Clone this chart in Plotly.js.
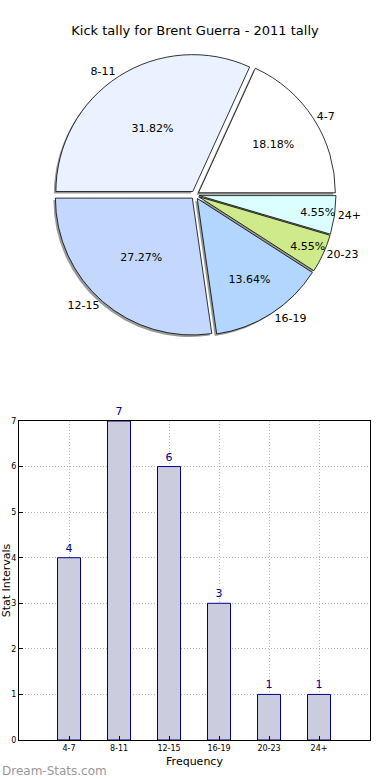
<!DOCTYPE html>
<html>
<head>
<meta charset="utf-8">
<script src="https://cdn.plot.ly/plotly-3.0.1.min.js"></script>
<style>html,body{margin:0;padding:0;background:#fff}#chart{width:390px;height:780px}</style>
</head>
<body>
<div id="chart"></div>
<script>
var categories = ["4-7", "8-11", "12-15", "16-19", "20-23", "24+"];
var counts = [4, 7, 6, 3, 1, 1];
var sliceColors = ["#ffffff", "#eaf1ff", "#c4d8ff", "#b3d6ff", "#cfea8a", "#dbffff"];
var pullAmount = [0.03, 0.03, 0.03, 0.03, 0.03, 0.03];

var W = 390, H = 780;
function px(x) { return x / W; }
function py(y) { return 1 - y / H; }

var cx = 195, cy = 195, half = 141;
var pieDomain = {x: [px(cx - half), px(cx + half)], y: [py(cy + half), py(cy - half)]};
var shadowDomain = {x: [px(cx - half - 2), px(cx + half - 2)], y: [py(cy + half + 2), py(cy - half + 2)]};
var font = "DejaVu Sans, sans-serif";
var pieRotation = 24.55;

var shadow = {
  type: "pie", values: counts, labels: categories, sort: false,
  direction: "counterclockwise", rotation: pieRotation, pull: pullAmount,
  domain: shadowDomain, textinfo: "none", hoverinfo: "skip",
  marker: {colors: categories.map(function(){return "#9a9a9a";}), line: {width: 0}},
  showlegend: false
};
var pie = {
  type: "pie", values: counts, labels: categories, sort: false,
  direction: "counterclockwise", rotation: pieRotation, pull: pullAmount,
  domain: pieDomain, textinfo: "percent", texttemplate: "%{percent:.2%}",
  textposition: "inside", insidetextorientation: "horizontal",
  textfont: {family: font, size: 11, color: "#000"},
  marker: {colors: sliceColors, line: {color: "#000", width: 0.8}},
  showlegend: false
};
var pieLabels = {
  type: "pie", values: counts, labels: categories, sort: false,
  direction: "counterclockwise", rotation: pieRotation, pull: pullAmount,
  domain: pieDomain, textinfo: "label", textposition: "outside",
  outsidetextfont: {family: font, size: 11, color: "#000"},
  marker: {colors: categories.map(function(){return "rgba(0,0,0,0)";}), line: {width: 0}},
  hoverinfo: "skip", showlegend: false
};
var bars = {
  type: "bar", x: categories, y: counts, width: 0.46,
  text: counts.map(String), textposition: "outside", cliponaxis: false,
  textfont: {family: font, size: 11, color: "#00008b"},
  marker: {color: "#ccccdf", line: {color: "#00008b", width: 1}},
  xaxis: "x", yaxis: "y", showlegend: false
};

var layout = {
  width: W, height: H, margin: {l: 0, r: 0, t: 0, b: 0},
  paper_bgcolor: "#fff", plot_bgcolor: "#fff",
  font: {family: font, color: "#000"},
  uniformtext: {minsize: 11, mode: "show"},
  title: {text: "Kick tally for Brent Guerra - 2011 tally", x: 0.5, xanchor: "center",
          y: py(30), yanchor: "middle", font: {family: font, size: 13, color: "#000"}},
  xaxis: {domain: [px(19), px(370)], range: [-1, 6.02], type: "category",
          showline: true, mirror: true, linecolor: "#000", linewidth: 1,
          showgrid: true, gridcolor: "#b8b8b8", griddash: "1px,2px", gridwidth: 1,
          ticks: "inside", ticklen: 4, tickcolor: "#000",
          tickfont: {family: font, size: 8, color: "#000"}, zeroline: false,
          title: {text: "Frequency", font: {family: font, size: 11, color: "#000"}, standoff: 5}},
  yaxis: {domain: [py(740), py(421)], range: [0, 7], dtick: 1,
          showline: true, mirror: true, linecolor: "#000", linewidth: 1,
          showgrid: true, gridcolor: "#b8b8b8", griddash: "1px,2px", gridwidth: 1,
          ticks: "inside", ticklen: 4, tickcolor: "#000", zeroline: false,
          tickfont: {family: font, size: 8, color: "#000"},
          title: {text: "Stat Intervals", font: {family: font, size: 11, color: "#000"}, standoff: 1}},
  annotations: [{text: "Dream-Stats.com", xref: "paper", yref: "paper", x: 0, y: py(771),
                 xanchor: "left", yanchor: "middle", showarrow: false,
                 font: {family: font, size: 12, color: "#999999"}}]
};

Plotly.newPlot("chart", [shadow, pie, pieLabels, bars], layout, {staticPlot: true});
</script>
</body>
</html>
